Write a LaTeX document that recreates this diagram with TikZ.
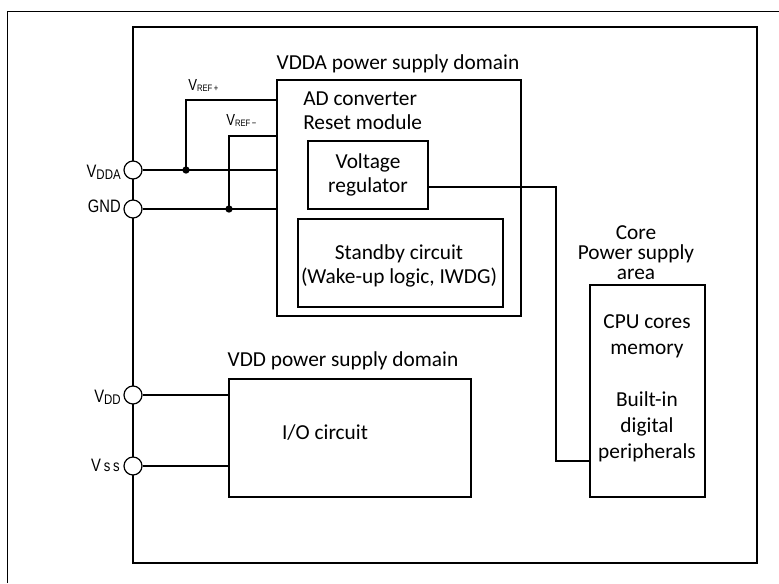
\documentclass[tikz,border=0pt]{standalone}
\usepackage{fontspec}
\setmainfont{Carlito}
\newfontfamily\pinfont{Liberation Sans}[FakeStretch=0.82]
\newcommand\mainsize{\fontsize{16}{18}\selectfont}
\newcommand\pinsub[1]{\raisebox{-1.5pt}{\fontsize{10.5}{11}\selectfont #1}}
\newcommand\refsub[1]{\raisebox{-1.2pt}{\fontsize{7}{7}\selectfont #1}}
\begin{document}
\begin{tikzpicture}[x=0.75pt,y=-0.75pt,
  box/.style={draw, line width=0.9pt, inner sep=0pt, outer sep=0pt, align=center, font=\mainsize},
  chipbox/.style={draw, line width=2pt, inner sep=0pt, outer sep=0pt},
  pin/.style={circle, draw, fill=white, line width=0.9pt, minimum size=13.5pt, inner sep=0pt},
  dot/.style={circle, fill, minimum size=5.5pt, inner sep=0pt},
  wire/.style={line width=0.9pt},
  txt/.style={inner sep=0pt, align=center, font=\mainsize},
  pinlbl/.style={inner sep=0pt, anchor=base east, font=\pinfont\fontsize{13.5}{15}\selectfont},
  reflbl/.style={inner sep=0pt, anchor=base west, font=\pinfont\fontsize{12}{13}\selectfont}]
\useasboundingbox (0,0) rectangle (779,583);
% outer frame
\draw[line width=0.6pt] (7,583) -- (7,11) -- (779,11);
% boxes
\node[chipbox, minimum width=468pt, minimum height=402pt] (chip) at (445,295) {};
\node[box, minimum width=183pt, minimum height=177pt] (dom) at (399,198) {};
\node[box, minimum width=90pt, minimum height=51pt] (reg) at (368,175) {Voltage\\regulator};
\node[box, minimum width=153.75pt, minimum height=66pt] (stby) at (400.5,263) {};
\node[box, minimum width=86.25pt, minimum height=159pt] (core) at (647.5,391) {};
\node[box, minimum width=181.5pt, minimum height=88.5pt] (io) at (350,438) {};
% texts
\node[txt] (domlbl) at (398,64) {VDDA power supply domain};
\node[txt, align=left, anchor=west] (adc) at (303,111) {AD converter\\Reset module};
\node[txt] (stbylbl) at (399,266) {Standby circuit\\(Wake-up logic, IWDG)};
\node[txt, font=\fontsize{16}{15}\selectfont] (corelbl) at (636,253) {Core\\Power supply\\area};
\node[txt, font=\fontsize{16}{19.5}\selectfont] (cpulbl) at (647,388) {CPU cores\\memory\\\strut\\Built-in\\digital\\peripherals};
\node[txt] (vddlbl) at (343,361) {VDD power supply domain};
\node[txt] (iolbl) at (325,433) {I/O circuit};
% pins
\node[pin] (vdda) at (133,170) {};
\node[pin] (gnd) at (133,209) {};
\node[pin] (vdd) at (133,395) {};
\node[pin] (vss) at (133,466) {};
\node[pinlbl] (lvdda) at (121,177) {V\pinsub{DDA}};
\node[pinlbl] (lgnd) at (121,212) {GND};
\node[pinlbl] (lvdd) at (121,402) {V\pinsub{DD}};
\node[pinlbl] (lvss) at (120,471) {V\,{\fontsize{12}{13}\selectfont s\,s}};
% wires
\coordinate (rp) at (277,100);
\coordinate (rm) at (277,136);
\coordinate (d1) at (186,170);
\coordinate (d2) at (229,209);
\draw[wire] (vdda) -- (vdda -| dom.west);
\draw[wire] (gnd) -- (gnd -| dom.west);
\draw[wire] (d1) |- (rp);
\draw[wire] (d2) |- (rm);
\node[dot] (dot1) at (d1) {};
\node[dot] (dot2) at (d2) {};
\node[reflbl] (lrp) at (188,90) {V\refsub{REF\,+}};
\node[reflbl] (lrm) at (226,125) {V\refsub{REF\,−}};
\draw[wire] (vdd) -- (vdd -| io.west);
\draw[wire] (vss) -- (vss -| io.west);
\coordinate (b1) at (556,187);
\coordinate (b2) at (556,461);
\draw[wire] (reg.east |- b1) -- (b1) -- (b2) -- (b2 -| core.west);
\end{tikzpicture}
\end{document}
